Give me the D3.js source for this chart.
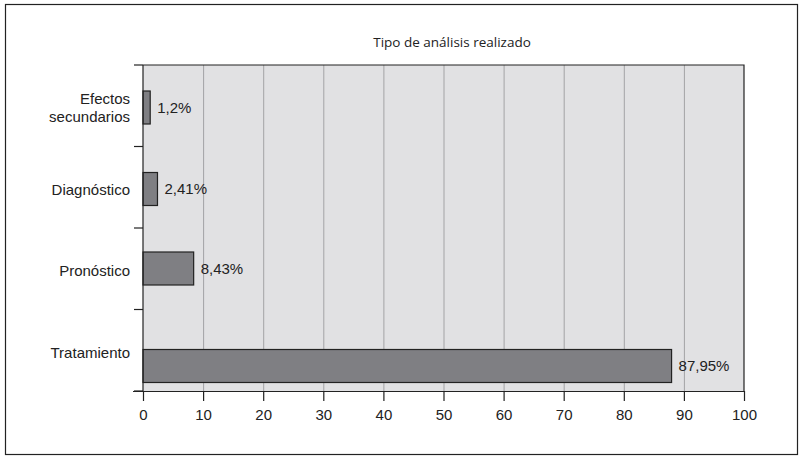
<!DOCTYPE html>
<html><head><meta charset="utf-8">
<script src="https://cdn.jsdelivr.net/npm/d3@7"></script>
<style>body{margin:0;background:#fff;} svg{display:block;}</style>
</head><body>
<svg id="c" width="806" height="464"></svg>
<script>
const title = "Tipo de análisis realizado";
const categories = ["Efectos\nsecundarios", "Diagnóstico", "Pronóstico", "Tratamiento"];
const values = [1.2, 2.41, 8.43, 87.95];
const valueLabels = ["1,2%", "2,41%", "8,43%", "87,95%"];
const xTicks = [0,10,20,30,40,50,60,70,80,90,100];

(function(){
const svg = d3.select("#c");
const pL = 143, pR = 744, pT = 65, pB = 391;
const x = d3.scaleLinear().domain([0,100]).range([pL,pR]);
const band = d3.scaleBand().domain(categories).range([pT,pB]);
const barH = 33;
// layout: vertical offset of each bar within its band (as in the source figure)
const barOffset = [26, 26, 24, 40];
const barY = (i)=>band(categories[i]) + barOffset[i];
const font = "'Liberation Sans', Arial, sans-serif";
const fs = 15;

svg.append("rect").attr("x",5.5).attr("y",4.5).attr("width",792).attr("height",450)
  .attr("fill","none").attr("stroke","#222").attr("stroke-width",1.2);

svg.append("text").attr("x",452).attr("y",47).attr("text-anchor","middle")
  .attr("font-family","'Open Sans', sans-serif").attr("font-size",13.5).attr("fill","#222").text(title);

svg.append("rect").attr("x",pL).attr("y",pT).attr("width",pR-pL).attr("height",pB-pT)
  .attr("fill","#e1e1e3");

svg.append("g").selectAll("line").data(xTicks.slice(1,-1)).join("line")
  .attr("x1",d=>x(d)+0.5).attr("x2",d=>x(d)+0.5).attr("y1",pT).attr("y2",pB)
  .attr("stroke","#a3a3a5").attr("stroke-width",1);

svg.append("path").attr("d",`M${pL},${pT}H${pR}V${pB}`).attr("fill","none").attr("stroke","#222").attr("stroke-width",1.2);

svg.append("g").selectAll("rect").data(values).join("rect")
  .attr("x",x(0)).attr("y",(d,i)=>barY(i))
  .attr("width",d=>x(d)-x(0)).attr("height",barH)
  .attr("fill","#7f7f83").attr("stroke","#222").attr("stroke-width",1.2);

svg.append("g").selectAll("text").data(values).join("text")
  .attr("x",d=>x(d)+7).attr("y",(d,i)=>barY(i)+barH/2)
  .attr("dy","0.35em")
  .attr("font-family",font).attr("font-size",fs).attr("fill","#222")
  .text((d,i)=>valueLabels[i]);

const xAxis = d3.axisBottom(x).tickValues(xTicks).tickSize(10).tickPadding(8).tickFormat(d3.format("d"));
const gx = svg.append("g").attr("transform",`translate(0,${pB})`).call(xAxis);
gx.select(".domain").attr("d",`M${pL-10},0.5H${pR}`).attr("stroke","#222").attr("stroke-width",1.2);
gx.selectAll(".tick line").attr("stroke","#222").attr("stroke-width",1.2);
gx.selectAll(".tick text").attr("font-family",font).attr("font-size",fs).attr("fill","#222");

svg.append("line").attr("x1",pL).attr("x2",pL).attr("y1",pT).attr("y2",pB).attr("stroke","#222").attr("stroke-width",1.2);
const bounds = categories.map(c=>band(c)).concat([pB]);
svg.append("g").selectAll("line").data(bounds).join("line")
  .attr("x1",pL-9).attr("x2",pL).attr("y1",d=>d).attr("y2",d=>d)
  .attr("stroke","#222").attr("stroke-width",1.2);

const cl = svg.append("g").selectAll("text").data(categories).join("text")
  .attr("x",130).attr("text-anchor","end")
  .attr("font-family",font).attr("font-size",fs).attr("fill","#222")
  .attr("y",c=>band(c)+band.bandwidth()/2 + 2);
cl.each(function(c){
  const lines = c.split("\n");
  const t = d3.select(this);
  lines.forEach((l,i)=>{
    t.append("tspan").attr("x",130)
      .attr("dy", i===0 ? ((0.35 - (lines.length-1)*0.57)+"em") : "1.14em")
      .text(l);
  });
});
})();
</script>
</body></html>
